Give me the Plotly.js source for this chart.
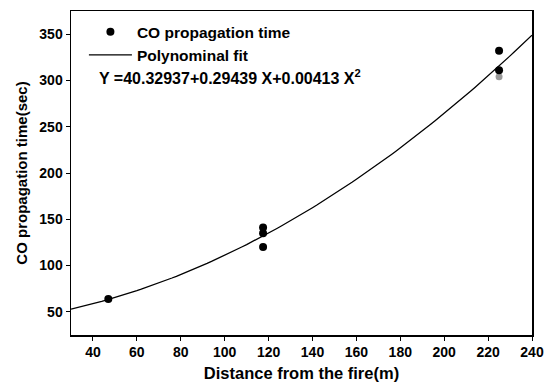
<!DOCTYPE html>
<html><head><meta charset="utf-8">
<script src="https://cdn.plot.ly/plotly-3.0.1.min.js"></script>
<style>body{margin:0;background:#fff}#c{width:553px;height:384px}</style>
</head><body><div id="c"></div>
<script>
// measured points
const distX = [47, 117.5, 117.5, 117.5, 225, 225];
const timeY = [64, 141, 135, 120, 332, 311];
const grayX = [225];
const grayY = [304];
// polynomial fit coefficients (from the chart): Y = c0 + c1 X + c2 X^2
const fitCoef = [40.32937, 0.29439, 0.00413];
const fitX = [];
for (let x = 30; x <= 240; x += 2) fitX.push(x);
const fitY = fitX.map(x => fitCoef[0] + fitCoef[1]*x + fitCoef[2]*x*x);
const xTicks = [40,60,80,100,120,140,160,180,200,220,240];
const yTicks = [50,100,150,200,250,300,350];

const font = 'Liberation Sans, Arial, sans-serif';
const traces = [
  {x: fitX, y: fitY, mode: 'lines', name: 'Polynominal fit', line: {color:'#000', width:1.3}, showlegend: true},
  {x: grayX, y: grayY, mode: 'markers', marker:{color:'#999', size:7, symbol:'circle'}, showlegend:false},
  {x: distX, y: timeY, mode: 'markers', name: 'CO propagation time', marker:{color:'#000', size:8, symbol:'circle'}, showlegend: true}
];
const layout = {
  width: 553, height: 384,
  margin: {l:71, r:21, t:11, b:49},
  paper_bgcolor:'#fff', plot_bgcolor:'#fff',
  font: {family: font, color:'#000'},
  showlegend: true,
  legend: {x: 0.028, y: 0.987, xanchor:'left', yanchor:'top', traceorder:'reversed', itemwidth:43,
           font:{family:font, size:15.5, weight:'bold'}, bgcolor:'rgba(0,0,0,0)', tracegroupgap:0},
  xaxis: {range:[30,240], tickvals:xTicks, ticks:'outside', ticklen:4, tickcolor:'#000',
          showline:true, linecolor:'#000', linewidth:1.5, mirror:true, showgrid:false, zeroline:false,
          tickfont:{size:14, weight:'bold'},
          title:{text:'Distance from the fire(m)', font:{size:16.5, weight:'bold'}, standoff:8}},
  yaxis: {range:[25,375], tickvals:yTicks, ticks:'outside', ticklen:4, tickcolor:'#000',
          showline:true, linecolor:'#000', linewidth:1.5, mirror:true, showgrid:false, zeroline:false,
          tickfont:{size:14, weight:'bold'},
          title:{text:'CO propagation time(sec)', font:{size:15, weight:'bold'}, standoff:8}},
  annotations: [{xref:'paper', yref:'paper', x:0.058, y:0.795, xanchor:'left', yanchor:'middle', showarrow:false, borderpad:0,
    text:'Y =40.32937+0.29439 X+0.00413 X<sup>2</sup>', font:{family:font, size:16, weight:'bold'}}]
};
Plotly.newPlot('c', traces, layout, {staticPlot:true, displayModeBar:false});
</script></body></html>
